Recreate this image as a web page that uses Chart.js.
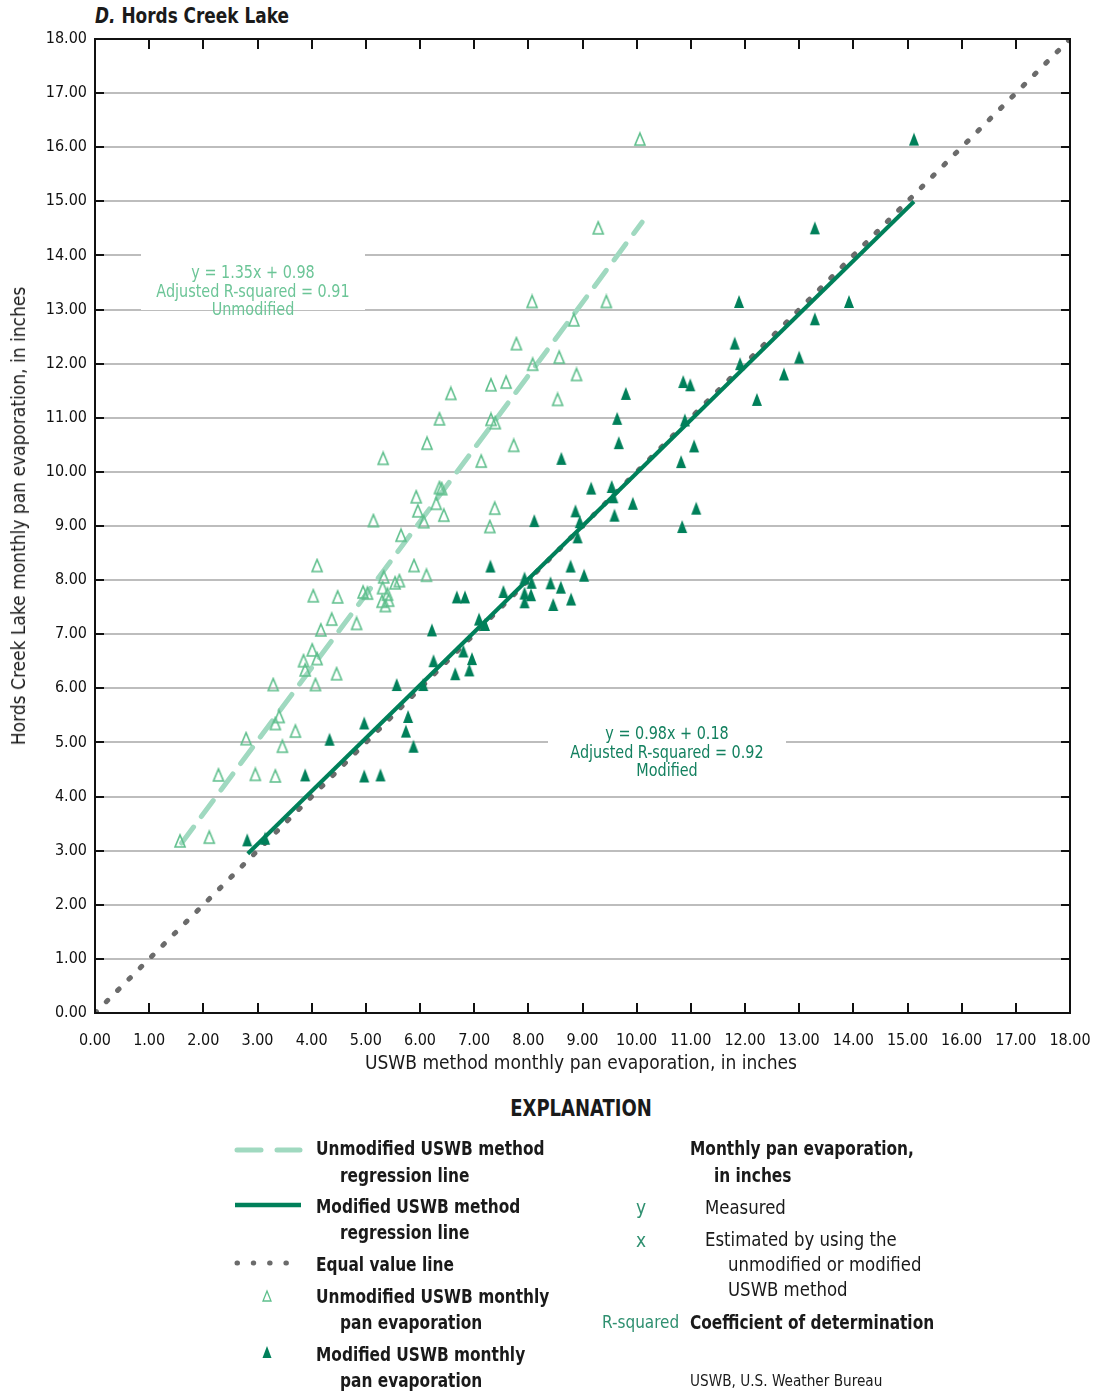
<!DOCTYPE html>
<html>
<head>
<meta charset="utf-8">
<title>Hords Creek Lake pan evaporation</title>
<script src="https://cdn.jsdelivr.net/npm/chart.js@4.4.1/dist/chart.umd.min.js"></script>
<style>
  html, body { margin: 0; padding: 0; background: #fff; }
  body {
    width: 1096px; height: 1395px; position: relative; overflow: hidden;
    font-family: "Liberation Sans Narrow", "Arial Narrow", "DejaVu Sans Condensed", sans-serif;
    color: #1a1a1a;
  }
  #plot { position: absolute; left: 0; top: 0; }
  .t { position: absolute; white-space: nowrap; line-height: 26px; height: 26px; transform-origin: 0 50%; }
  .b { font-weight: bold; transform: scaleX(0.855); }
  .n { transform: scaleX(0.92); }
  .g { color: #2f9070; }
  .note {
    position: absolute; background: #fff; text-align: center;
    font-size: 17px; line-height: 18.5px; white-space: nowrap;
  }
  .note div { transform: scaleX(0.94); }
</style>
</head>
<body>

<div class="t b" style="left:95px; top:3px; font-size:22px;"><i>D.</i> Hords Creek Lake</div>

<canvas id="plot" width="1096" height="1080"></canvas>

<div class="t" style="left:581px; top:1049px; font-size:19px; transform:translateX(-50%);">USWB method monthly pan evaporation, in inches</div>
<div class="t" style="left:18px; top:516px; font-size:19px; transform-origin:50% 50%; transform:translate(-50%,-50%) rotate(-90deg);">Hords Creek Lake monthly pan evaporation, in inches</div>

<div id="noteUnmod" class="note" style="color:#6cc597; width:224px; height:57px;">
  <div>y = 1.35x + 0.98<br>Adjusted R-squared = 0.91<br>Unmodified</div>
</div>
<div id="noteMod" class="note" style="color:#13805f; width:238px; height:57px;">
  <div>y = 0.98x + 0.18<br>Adjusted R-squared = 0.92<br>Modified</div>
</div>

<!-- Explanation -->
<div class="t" style="left:581px; top:1095px; font-size:23px; font-weight:bold; transform-origin:50% 50%; transform:translateX(-50%) scaleX(0.87);">EXPLANATION</div>

<svg style="position:absolute; left:0; top:0;" width="1096" height="1395">
  <line x1="237" y1="1150" x2="300" y2="1150" stroke="#a0d9c0" stroke-width="5" stroke-dasharray="24 16" stroke-linecap="round"/>
  <line x1="235" y1="1205" x2="301" y2="1205" stroke="#00805a" stroke-width="4.5"/>
  <line x1="237" y1="1263" x2="302" y2="1263" stroke="#6b6b6b" stroke-width="5" stroke-dasharray="0.5 15.8" stroke-linecap="round"/>
  <polygon points="267,1291 271,1301 263,1301" fill="none" stroke="#5ebf8c" stroke-width="1.3"/>
  <polygon points="267,1346 271.5,1358 262.5,1358" fill="#00805a"/>
</svg>

<div class="t b" style="left:316px; top:1135px; font-size:20px;">Unmodified USWB method</div>
<div class="t b" style="left:340px; top:1162px; font-size:20px;">regression line</div>
<div class="t b" style="left:316px; top:1193px; font-size:20px;">Modified USWB method</div>
<div class="t b" style="left:340px; top:1219px; font-size:20px;">regression line</div>
<div class="t b" style="left:316px; top:1251px; font-size:20px;">Equal value line</div>
<div class="t b" style="left:316px; top:1283px; font-size:20px;">Unmodified USWB monthly</div>
<div class="t b" style="left:340px; top:1309px; font-size:20px;">pan evaporation</div>
<div class="t b" style="left:316px; top:1341px; font-size:20px;">Modified USWB monthly</div>
<div class="t b" style="left:340px; top:1367px; font-size:20px;">pan evaporation</div>

<div class="t b" style="left:690px; top:1135px; font-size:20px;">Monthly pan evaporation,</div>
<div class="t b" style="left:714px; top:1162px; font-size:20px;">in inches</div>
<div class="t g" style="left:636px; top:1194px; font-size:19px;">y</div>
<div class="t n" style="left:705px; top:1194px; font-size:20px;">Measured</div>
<div class="t g" style="left:636px; top:1227px; font-size:19px;">x</div>
<div class="t n" style="left:705px; top:1226px; font-size:20px;">Estimated by using the</div>
<div class="t n" style="left:728px; top:1251px; font-size:20px;">unmodified or modified</div>
<div class="t n" style="left:728px; top:1276px; font-size:20px;">USWB method</div>
<div class="t g" style="left:602px; top:1309px; font-size:17px;">R-squared</div>
<div class="t b" style="left:690px; top:1309px; font-size:20px;">Coefficient of determination</div>
<div class="t n" style="left:690px; top:1368px; font-size:16.5px;">USWB, U.S. Weather Bureau</div>

<script>
// Monthly pan evaporation, inches. x = USWB method estimate, y = measured.
const unmodX = [1.57, 2.11, 2.28, 2.96, 3.33, 2.79, 3.46, 3.70, 3.33, 3.40,
                3.29, 4.07, 4.46, 3.88, 3.85, 4.10, 4.01, 4.17, 4.37, 4.83,
                4.03, 4.48, 4.10, 4.95, 5.03, 5.31, 5.30, 5.36, 5.42, 5.40,
                5.33, 5.54, 5.62, 5.89, 6.12, 5.65, 5.14, 6.07, 5.96, 5.93,
                6.30, 6.44, 6.36, 6.40, 5.32, 6.13, 6.36, 6.57, 7.31, 7.59,
                8.54, 7.13, 7.73, 7.31, 7.39, 7.38, 7.29, 7.78, 8.08, 8.07,
                8.57, 8.89, 8.84, 9.44, 9.29, 10.06];
const unmodY = [3.18, 3.25, 4.40, 4.41, 4.38, 5.07, 4.93, 5.21, 5.35, 5.48,
                6.07, 6.07, 6.27, 6.34, 6.51, 6.55, 6.71, 7.08, 7.28, 7.20,
                7.71, 7.69, 8.27, 7.78, 7.76, 7.86, 7.61, 7.53, 7.63, 7.74,
                8.06, 7.95, 7.99, 8.27, 8.09, 8.83, 9.10, 9.08, 9.28, 9.54,
                9.42, 9.20, 9.71, 9.69, 10.25, 10.53, 10.98, 11.45, 11.61, 11.66,
                11.34, 10.20, 10.49, 10.97, 10.91, 9.33, 8.99, 12.37, 11.99, 13.15,
                12.12, 11.80, 12.81, 13.15, 14.51, 16.15];

const modX = [2.81, 3.14, 3.88, 4.97, 5.27, 4.33, 4.97, 5.57, 5.78, 5.74,
              5.88, 6.06, 6.22, 6.25, 6.65, 6.80, 6.91, 6.96, 6.68, 6.83,
              7.09, 7.20, 7.30, 7.54, 7.93, 8.06, 7.93, 8.05, 7.93, 8.41,
              8.60, 8.46, 8.79, 8.78, 9.03, 8.11, 8.61, 8.87, 8.95, 8.91,
              9.16, 9.54, 9.57, 9.59, 9.93, 9.64, 9.67, 9.80, 10.84, 11.10,
              10.82, 11.06, 10.89, 10.86, 10.99, 11.81, 11.91, 11.89, 12.22, 12.72,
              13.00, 13.29, 13.92, 13.29, 15.12];
const modY = [3.20, 3.23, 4.40, 4.38, 4.40, 5.06, 5.36, 6.07, 5.48, 5.21,
              4.93, 6.07, 7.08, 6.51, 6.27, 6.69, 6.34, 6.55, 7.69, 7.69,
              7.28, 7.18, 8.26, 7.79, 8.04, 7.96, 7.76, 7.73, 7.60, 7.95,
              7.87, 7.55, 7.65, 8.26, 8.09, 9.10, 10.25, 9.28, 9.08, 8.80,
              9.70, 9.73, 9.54, 9.20, 9.42, 10.99, 10.54, 11.45, 8.99, 9.33,
              10.19, 10.48, 10.96, 11.67, 11.61, 12.38, 12.00, 13.15, 11.34, 11.81,
              12.12, 12.83, 13.15, 14.51, 16.15];

// Regression fits (slope, intercept) and the x span each line covers
const unmodFit = [1.35, 0.98];
const unmodSpan = [1.60, 10.10];
const modFit = [0.98, 0.18];
const modSpan = [2.82, 15.12];
const equalSpan = [0, 18];

// Axis range and tick spacing
const axisMin = 0, axisMax = 18, axisStep = 1;

const FONT = '"Liberation Sans Narrow", "Arial Narrow", "DejaVu Sans Condensed", sans-serif';
const C_MOD = '#00805a';
const C_UNMOD_PT = '#5ebf8c';
const C_UNMOD_LINE = '#a0d9c0';
const C_EQUAL = '#6b6b6b';

const toPoints = (xs, ys) => xs.map((v, i) => ({ x: v, y: ys[i] }));
const fitLine = (fit, span) => span.map(v => ({ x: v, y: fit[0] * v + fit[1] }));

// Narrow triangle marker sprites
function triangleSprite(fill, stroke, w, h, lw) {
  const c = document.createElement('canvas');
  c.width = w + 4; c.height = h + 4;
  const g = c.getContext('2d');
  g.beginPath();
  g.moveTo(c.width / 2, 2);
  g.lineTo(c.width - 2, h + 2);
  g.lineTo(2, h + 2);
  g.closePath();
  if (fill) { g.fillStyle = fill; g.fill(); }
  if (stroke) { g.strokeStyle = stroke; g.lineWidth = lw; g.stroke(); }
  return c;
}
const openTri = triangleSprite(null, C_UNMOD_PT, 10, 12, 1.6);
const solidTri = triangleSprite(C_MOD, null, 10, 13, 0);

// Box frame with inward tick marks on all four sides
const frameTicks = {
  id: 'frameTicks',
  afterDatasetsDraw(chart) {
    const { ctx, chartArea: a, scales: { x, y } } = chart;
    ctx.save();
    ctx.strokeStyle = '#111';
    ctx.lineWidth = 2;
    ctx.beginPath();
    x.ticks.forEach(t => {
      const px = Math.round(x.getPixelForValue(t.value));
      ctx.moveTo(px, a.bottom); ctx.lineTo(px, a.bottom - 10);
      ctx.moveTo(px, a.top); ctx.lineTo(px, a.top + 10);
    });
    y.ticks.forEach(t => {
      const py = Math.round(y.getPixelForValue(t.value));
      ctx.moveTo(a.left, py); ctx.lineTo(a.left + 9, py);
      ctx.moveTo(a.right, py); ctx.lineTo(a.right - 9, py);
    });
    ctx.stroke();
    ctx.strokeRect(a.left, a.top, a.right - a.left, a.bottom - a.top);
    ctx.restore();
  }
};

// Place the regression notes at data coordinates (centre x, first text line y)
const notes = [
  { id: 'noteUnmod', x: 2.92, y: 13.69 },
  { id: 'noteMod', x: 10.56, y: 5.17 }
];
const notePlacer = {
  id: 'notePlacer',
  afterRender(chart) {
    const { x, y } = chart.scales;
    notes.forEach(n => {
      const el = document.getElementById(n.id);
      const px = x.getPixelForValue(n.x);
      const py = y.getPixelForValue(n.y);
      el.style.left = (px - el.offsetWidth / 2) + 'px';
      el.style.top = (py - 19) + 'px';
      el.style.paddingTop = '10px';
      el.style.boxSizing = 'border-box';
    });
  }
};

new Chart(document.getElementById('plot'), {
  type: 'scatter',
  data: {
    datasets: [
      {
        label: 'Modified USWB monthly pan evaporation',
        data: toPoints(modX, modY),
        pointStyle: solidTri, pointRadius: 6, order: 1
      },
      {
        label: 'Unmodified USWB monthly pan evaporation',
        data: toPoints(unmodX, unmodY),
        pointStyle: openTri, pointRadius: 6, order: 2
      },
      {
        type: 'line', label: 'Modified USWB method regression line',
        data: fitLine(modFit, modSpan),
        borderColor: C_MOD, borderWidth: 4, pointRadius: 0, order: 3
      },
      {
        type: 'line', label: 'Unmodified USWB method regression line',
        data: fitLine(unmodFit, unmodSpan),
        borderColor: C_UNMOD_LINE, borderWidth: 5, borderDash: [20, 13],
        borderCapStyle: 'round', pointRadius: 0, order: 4
      },
      {
        type: 'line', label: 'Equal value line',
        data: fitLine([1, 0], equalSpan),
        borderColor: C_EQUAL, borderWidth: 5, borderDash: [2, 14],
        borderCapStyle: 'round', pointRadius: 0, order: 5
      }
    ]
  },
  options: {
    responsive: false,
    devicePixelRatio: 1,
    animation: false,
    events: [],
    layout: { padding: { left: 0, right: 26, top: 39, bottom: 0 } },
    plugins: { legend: { display: false }, tooltip: { enabled: false } },
    scales: {
      x: {
        type: 'linear', min: axisMin, max: axisMax,
        afterFit(s) { s.height = 67; s.paddingLeft = 0; s.paddingRight = 0; },
        grid: { display: false },
        border: { display: false },
        ticks: {
          stepSize: axisStep, padding: 10, color: '#111',
          font: { family: FONT, size: 16 },
          callback: v => v.toFixed(2)
        }
      },
      y: {
        type: 'linear', min: axisMin, max: axisMax,
        afterFit(s) { s.width = 95; s.paddingTop = 0; s.paddingBottom = 0; },
        grid: { color: '#bdbdbd', lineWidth: 2, drawTicks: false },
        border: { display: false },
        ticks: {
          stepSize: axisStep, padding: 8, color: '#111',
          font: { family: FONT, size: 16 },
          callback: v => v.toFixed(2)
        }
      }
    }
  },
  plugins: [frameTicks, notePlacer]
});
</script>
</body>
</html>
